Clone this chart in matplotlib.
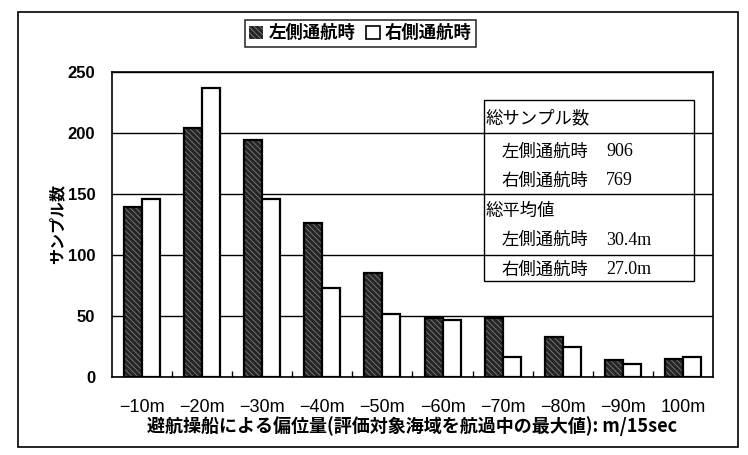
import numpy as np
import matplotlib.pyplot as plt
from matplotlib.patches import Patch, Rectangle

plt.rcParams['font.family'] = ['Noto Sans CJK JP', 'DejaVu Sans']
plt.rcParams['hatch.linewidth'] = 0.5

# データ
categories = ['−10m', '−20m', '−30m', '−40m', '−50m', '−60m', '−70m', '−80m', '−90m', '100m']
left_side = [139, 204, 194, 126, 85, 48, 48, 33, 14, 15]
right_side = [146, 237, 146, 73, 52, 47, 16, 25, 11, 16]
series_names = ['左側通航時', '右側通航時']
yticks = [0, 50, 100, 150, 200, 250]

table_rows = [
    ('総サンプル数', None, 0),
    ('左側通航時', '906', 1),
    ('右側通航時', '769', 1),
    ('総平均値', None, 0),
    ('左側通航時', '30.4m', 1),
    ('右側通航時', '27.0m', 1),
]

fig = plt.figure(figsize=(7.48, 4.55), dpi=100)
ax = fig.add_axes([0.1497, 0.1714, 0.8035, 0.6704])

x = np.arange(len(categories))
w = 0.3

# 左側: 濃いグレーに細かい斜線
ax.bar(x - w/2, left_side, w, color='#262626', edgecolor='#8c8c8c', hatch='\\\\\\\\\\\\', linewidth=0, zorder=2)
ax.bar(x - w/2, left_side, w, fill=False, edgecolor='black', linewidth=1.6, zorder=3)
ax.bar(x + w/2, right_side, w, color='white', edgecolor='black', linewidth=1.6, zorder=3)

ax.set_xlim(-0.5, len(categories) - 0.5)
ax.set_ylim(0, 250)
ax.set_yticks(yticks)
ax.set_yticklabels([str(v) for v in yticks], fontsize=12, fontweight='bold',
                   family=['Liberation Sans', 'DejaVu Sans'])
ax.set_xticks(x)
ax.set_xticklabels(categories, fontsize=13, family=['Liberation Sans', 'DejaVu Sans'])
ax.set_xticks(x[:-1] + 0.5, minor=True)
ax.tick_params(axis='x', which='major', length=0, pad=16)
ax.tick_params(axis='x', which='minor', direction='in', length=4, width=1)
ax.tick_params(axis='y', length=0, pad=12)

ax.yaxis.grid(True, color='black', linewidth=1)
ax.set_axisbelow(True)
for s in ax.spines.values():
    s.set_linewidth(1.2)

ax.set_xlabel('避航操船による偏位量(評価対象海域を航過中の最大値): m/15sec',
              fontsize=13, fontweight='bold', labelpad=0)
ax.set_ylabel('サンプル数', fontsize=11.5, fontweight='bold', labelpad=2)

# 表
ax.add_patch(Rectangle((0.619, 0.315), 0.349, 0.593, transform=ax.transAxes,
                       fill=False, edgecolor='black', linewidth=1, zorder=4))
row_y = [0.849, 0.738, 0.643, 0.544, 0.449, 0.351]
for (label, val, indent), yy in zip(table_rows, row_y):
    ax.text(0.621 + 0.027 * indent, yy, label, transform=ax.transAxes,
            fontsize=12.5, va='center', ha='left', zorder=5)
    if val is not None:
        ax.text(0.822, yy, val, transform=ax.transAxes, fontsize=13, va='center',
                ha='left', family=['Liberation Serif', 'DejaVu Serif'], zorder=5)

# 凡例
handles = [Patch(facecolor='#262626', edgecolor='#8c8c8c', hatch='\\\\\\\\\\\\', linewidth=0),
           Patch(facecolor='white', edgecolor='black', linewidth=1.2)]
leg = fig.legend(handles, series_names, loc='center', bbox_to_anchor=(0.482, 0.927),
                 ncol=2, frameon=True, fancybox=False, edgecolor='black',
                 prop={'weight': 'bold', 'size': 12.5}, handlelength=0.8, handleheight=0.8,
                 handletextpad=0.3, columnspacing=0.6, borderpad=0.25)
leg.get_frame().set_linewidth(1.2)

# 外枠
fig.add_artist(Rectangle((0.024, 0.0176), 0.9626, 0.956, transform=fig.transFigure,
                         fill=False, edgecolor='black', linewidth=1.2))

fig.savefig('out.png', dpi=100)
